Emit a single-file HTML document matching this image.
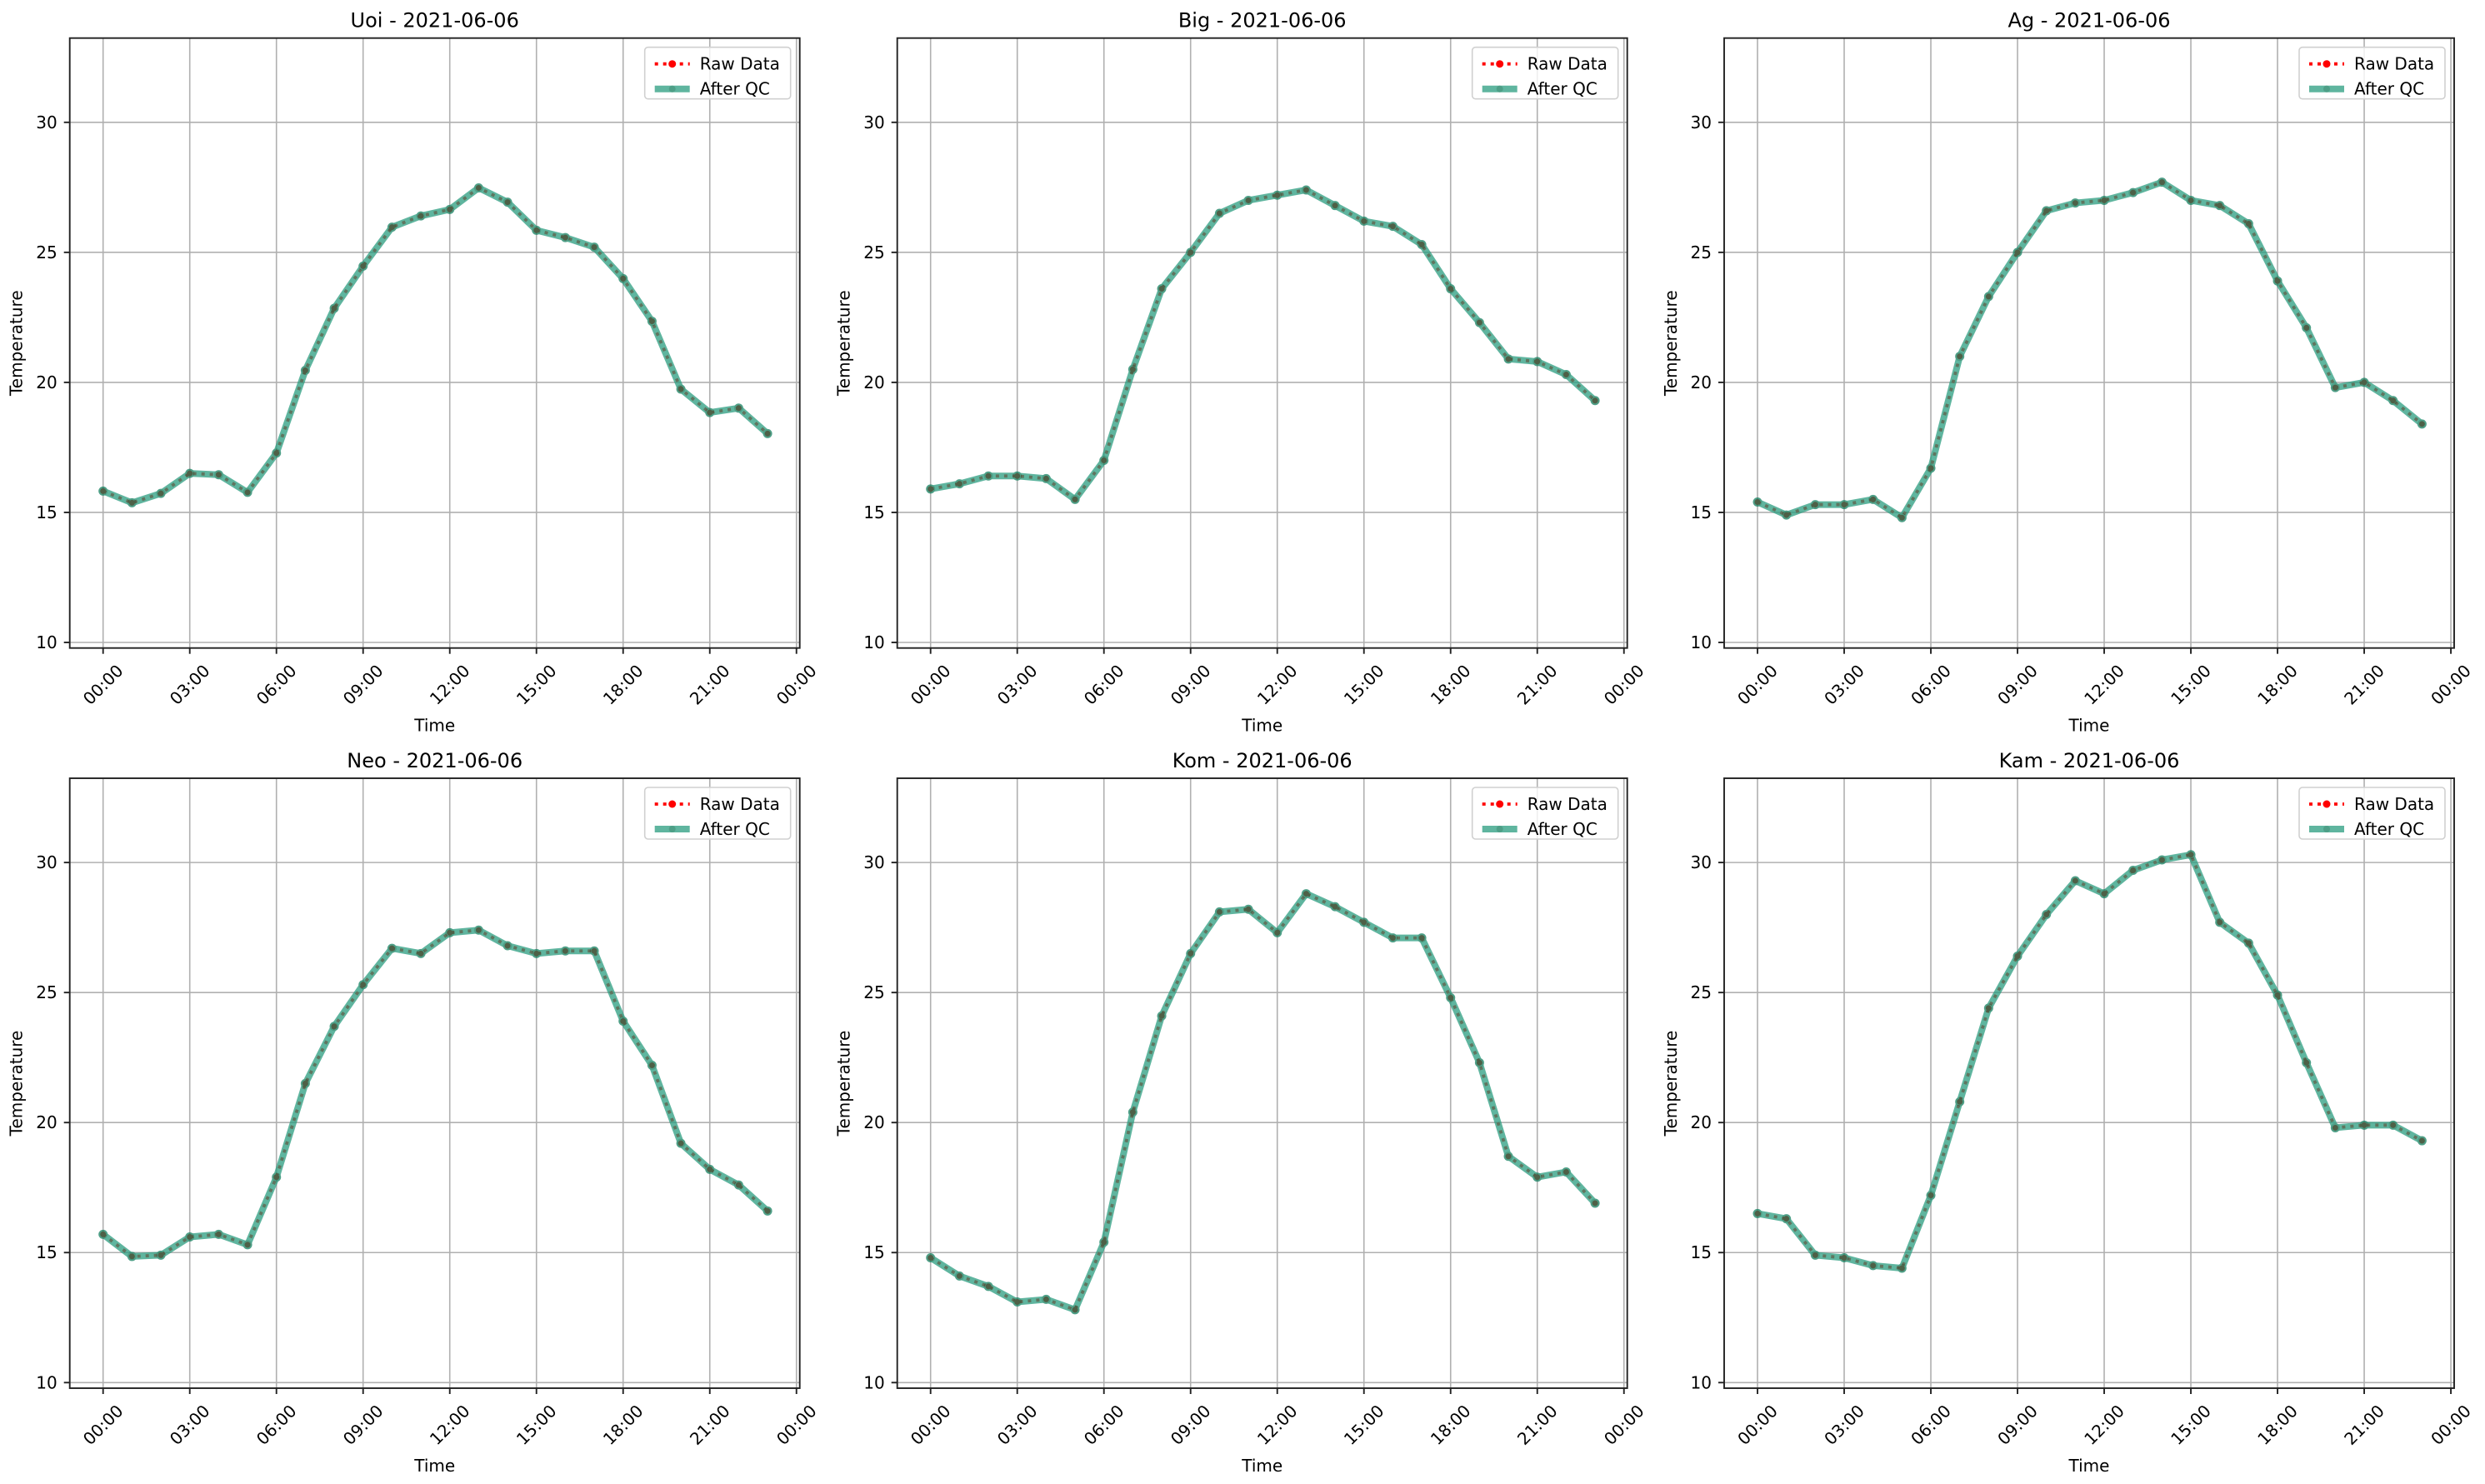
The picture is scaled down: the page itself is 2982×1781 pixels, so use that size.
<!DOCTYPE html>
<html><head><meta charset="utf-8">
<style>
html,body{margin:0;padding:0;background:#fff;}
svg{display:block;font-family:"DejaVu Sans","Liberation Sans",sans-serif;}
</style></head>
<body>
<svg id="fig" width="2982" height="1781" viewBox="0 0 2982 1781" xmlns="http://www.w3.org/2000/svg"></svg>
<script>
const stations = ["Uoi","Big","Ag","Neo","Kom","Kam"];
const dateLabel = "2021-06-06";
const hours = [0,1,2,3,4,5,6,7,8,9,10,11,12,13,14,15,16,17,18,19,20,21,22,23];
const uoiTemp = [15.82,15.37,15.73,16.5,16.45,15.77,17.28,20.46,22.85,24.47,25.97,26.4,26.65,27.48,26.93,25.85,25.57,25.2,23.99,22.35,19.74,18.84,19.01,18.03];
const bigTemp = [15.9,16.1,16.4,16.4,16.3,15.5,17.0,20.5,23.6,25.0,26.5,27.0,27.2,27.4,26.8,26.2,26.0,25.3,23.6,22.3,20.9,20.8,20.3,19.3];
const agTemp = [15.4,14.9,15.3,15.3,15.5,14.8,16.7,21.0,23.3,25.0,26.6,26.9,27.0,27.3,27.7,27.0,26.8,26.1,23.9,22.1,19.8,20.0,19.3,18.4];
const neoTemp = [15.7,14.85,14.9,15.6,15.7,15.3,17.9,21.5,23.7,25.3,26.7,26.5,27.3,27.4,26.8,26.5,26.6,26.6,23.9,22.2,19.2,18.2,17.6,16.6];
const komTemp = [14.8,14.1,13.7,13.1,13.2,12.8,15.4,20.4,24.1,26.5,28.1,28.2,27.3,28.8,28.3,27.7,27.1,27.1,24.8,22.3,18.7,17.9,18.1,16.9];
const kamTemp = [16.5,16.3,14.9,14.8,14.5,14.4,17.2,20.8,24.4,26.4,28.0,29.3,28.8,29.7,30.1,30.3,27.7,26.9,24.9,22.3,19.8,19.9,19.9,19.3];
const yTicks = [10,15,20,25,30];
const xTickHours = [0,3,6,9,12,15,18,21,24];
const xTickLabels = ["00:00","03:00","06:00","09:00","12:00","15:00","18:00","21:00","00:00"];

const series = [uoiTemp,bigTemp,agTemp,neoTemp,komTemp,kamTemp];
const NS = "http://www.w3.org/2000/svg";
const fig = document.getElementById("fig");
function mk(tag, attrs, parent){const e=document.createElementNS(NS,tag);for(const k in attrs)e.setAttribute(k,attrs[k]);(parent||fig).appendChild(e);return e;}

const W = 876, H = 732;
const colLeft = [83.7,1076.7,2069];
const rowTop = [45.7,934];
const yMin = 9.785, yMax = 33.24;
const xMin = -1.154, xMax = 24.114;

stations.forEach((name, i) => {
  const L = colLeft[i%3], T = rowTop[Math.floor(i/3)];
  const xs = h => L + (h - xMin)/(xMax - xMin)*W;
  const ys = v => T + (yMax - v)/(yMax - yMin)*H;
  const g = mk("g", {});
  
  

  xTickHours.forEach(h => {
    const l = mk("line",{x1:xs(h),x2:xs(h),y1:T,y2:T+H,stroke:"#b0b0b0","stroke-width":1.6},g);
    
    
  });
  yTicks.forEach(v => {
    const l = mk("line",{x1:L,x2:L+W,y1:ys(v),y2:ys(v),stroke:"#b0b0b0","stroke-width":1.6},g);
    
    
  });

  const data = series[i];
  const pts = hours.map((h,k)=>xs(h)+","+ys(data[k])).join(" ");
  const raw = mk("polyline",{points:pts,fill:"none",stroke:"#ff0000","stroke-width":3.8,"stroke-dasharray":"4,6"},g);
  
  
  hours.forEach((h,k)=>{
    const c = mk("circle",{cx:xs(h),cy:ys(data[k]),r:3.5,fill:"#ff0000"},g);
    
    
  });
  const qg = mk("g",{opacity:0.75},g);
  const qc = mk("polyline",{points:pts,fill:"none",stroke:"#2a9d7f","stroke-width":8,"stroke-linejoin":"round"},qg);
  
  
  hours.forEach((h,k)=>{
    const c = mk("circle",{cx:xs(h),cy:ys(data[k]),r:5.5,fill:"#14805f"},qg);
    
    
  });

  const fr = mk("rect",{x:L,y:T,width:W,height:H,fill:"none",stroke:"#222","stroke-width":1.9},g);
  
  

  yTicks.forEach(v => {
    mk("line",{x1:L-7,x2:L,y1:ys(v),y2:ys(v),stroke:"#222","stroke-width":1.9},g);
    const t = mk("text",{x:L-15,y:ys(v)+7,"text-anchor":"end","font-size":20,fill:"#000"},g);
    t.textContent = v;
    
    
  });
  xTickHours.forEach((h,k) => {
    mk("line",{x1:xs(h),x2:xs(h),y1:T+H,y2:T+H+7,stroke:"#222","stroke-width":1.9},g);
    const cx = xs(h), cy = T+H+44;
    const t = mk("text",{x:cx,y:cy+7,"text-anchor":"middle","font-size":20,fill:"#000",transform:`rotate(-45 ${cx} ${cy})`},g);
    t.textContent = xTickLabels[k];
    
    
  });
  const tt = mk("text",{x:L+W/2,y:T-13,"text-anchor":"middle","font-size":24,fill:"#000"},g);
  tt.textContent = name + " - " + dateLabel;
  
  
  const xl = mk("text",{x:L+W/2,y:T+H+100,"text-anchor":"middle","font-size":20,fill:"#000"},g);
  xl.textContent = "Time";
  
  
  const yx = L-57, yy = T+H/2;
  const yl = mk("text",{x:yx,y:yy,"text-anchor":"middle","font-size":20,fill:"#000",transform:`rotate(-90 ${yx} ${yy})`},g);
  yl.textContent = "Temperature";
  
  

  const lx = L+W-186, ly = T+11;
  const lg = mk("g",{},g);
  
  
  mk("rect",{x:lx,y:ly,width:175,height:62,rx:4,fill:"#fff","fill-opacity":0.8,stroke:"#d0d0d0","stroke-width":1.6},lg);
  mk("line",{x1:lx+12,x2:lx+54,y1:ly+20,y2:ly+20,stroke:"#ff0000","stroke-width":3.8,"stroke-dasharray":"4,6"},lg);
  mk("circle",{cx:lx+33,cy:ly+20,r:4.5,fill:"#ff0000"},lg);
  const t1 = mk("text",{x:lx+66,y:ly+27,"font-size":20,fill:"#000"},lg);
  t1.textContent = "Raw Data";
  
  
  const lq = mk("g",{opacity:0.75},lg);
  mk("line",{x1:lx+12,x2:lx+54,y1:ly+50,y2:ly+50,stroke:"#2a9d7f","stroke-width":8},lq);
  mk("circle",{cx:lx+33,cy:ly+50,r:4,fill:"#14805f"},lq);
  const t2 = mk("text",{x:lx+66,y:ly+57,"font-size":20,fill:"#000"},lg);
  t2.textContent = "After QC";
  
  
});
</script>
</body></html>
